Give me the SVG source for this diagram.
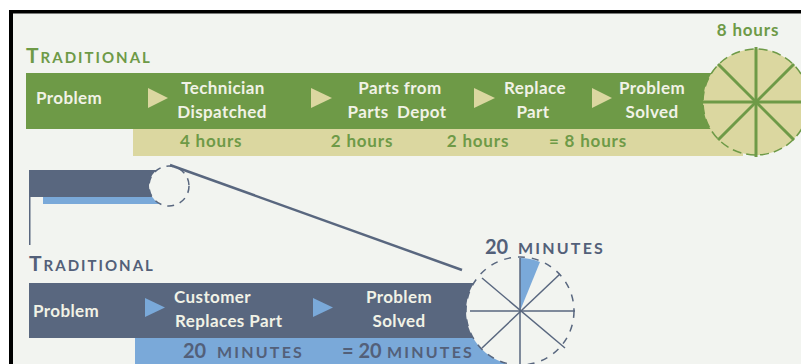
<svg xmlns="http://www.w3.org/2000/svg" width="801" height="364" viewBox="0 0 801 364">
<style>
text{font-family:Lato,"Open Sans","DejaVu Sans",sans-serif;font-weight:bold}
.wt{fill:#f1f2e6;font-size:17px;letter-spacing:0.4px}
.gt{fill:#6e9a47;font-size:17px;letter-spacing:0.8px}
.st{fill:#536079}
.mid{text-anchor:middle}
.big{font-size:21px}
.sc{font-size:15px;letter-spacing:2px}
.min{font-size:16px;letter-spacing:2.2px}
.dig{font-size:20px}
</style>
<rect width="801" height="364" fill="#ffffff"/>
<rect x="9" y="10" width="800" height="360" fill="#000000"/>
<rect x="13" y="13.5" width="800" height="360" fill="#f2f4f0"/>

<g id="traditional-8h">
  <text x="26" y="63" fill="#6e9a47" letter-spacing="2"><tspan class="big">T</tspan><tspan class="sc">RADITIONAL</tspan></text>
  <rect x="26" y="73" width="710" height="56" fill="#6e9a47"/>
  <rect x="133" y="129" width="610" height="27" fill="#dbd7a0"/>
</g>
<g id="n-problem1"><text class="wt" x="36" y="104">Problem</text></g>
<g id="n-technician"><text class="wt mid" x="223" y="94">Technician</text><text class="wt mid" x="222" y="118">Dispatched</text></g>
<g id="n-parts"><text class="wt mid" x="400" y="94">Parts from</text><text class="wt mid" x="397" y="118" word-spacing="4">Parts Depot</text></g>
<g id="n-replace"><text class="wt mid" x="535" y="94">Replace</text><text class="wt mid" x="533" y="118">Part</text></g>
<g id="n-solved1"><text class="wt mid" x="652" y="94">Problem</text><text class="wt mid" x="652" y="118">Solved</text></g>
<g id="times-8h">
  <text class="gt" x="180" y="147">4 hours</text>
  <text class="gt mid" x="362" y="147">2 hours</text>
  <text class="gt mid" x="478" y="147">2 hours</text>
  <text class="gt mid" x="588" y="147">= 8 hours</text>
</g>
<g id="clock-8h">
  <circle cx="756" cy="102" r="53" fill="#dbd7a0" stroke="#6e9a47" stroke-width="1.5" stroke-dasharray="9 5"/>
  <g stroke="#6e9a47" stroke-width="3">
    <line x1="756" y1="47" x2="756" y2="157"/>
    <line x1="703" y1="102" x2="809" y2="102"/>
    <line x1="718" y1="64" x2="794" y2="140"/>
    <line x1="718" y1="140" x2="794" y2="64"/>
  </g>
  <text class="gt mid" x="748" y="36">8 hours</text>
</g>

<g id="zoom-bar">
  <rect x="29" y="170" width="136" height="27" fill="#59677f"/>
  <rect x="43" y="197" width="122" height="7" fill="#7aa9d9"/>
  <line x1="29.75" y1="190" x2="29.75" y2="245" stroke="#59677f" stroke-width="1.5"/>
  <circle cx="169" cy="186" r="20" fill="#f2f4f0" stroke="#59677f" stroke-width="1.5" stroke-dasharray="7 6"/>
</g>

<g id="traditional-20m">
  <text class="st" x="29" y="271" letter-spacing="2"><tspan class="big">T</tspan><tspan class="sc">RADITIONAL</tspan></text>
  <rect x="29" y="283" width="460" height="55" fill="#59677f"/>
  <rect x="135" y="338" width="370" height="30" fill="#7aa9d9"/>
</g>
<g id="n-problem2"><text class="wt" x="33" y="317">Problem</text></g>
<g id="n-customer"><text class="wt" x="174" y="303">Customer</text><text class="wt" x="175" y="327">Replaces Part</text></g>
<g id="n-solved2"><text class="wt mid" x="399" y="303">Problem</text><text class="wt mid" x="399" y="327">Solved</text></g>
<g id="times-20m">
  <text class="st" x="183" y="358"><tspan class="dig">20</tspan><tspan class="min" x="217">MINUTES</tspan></text>
  <text class="st" x="342" y="358"><tspan class="dig">= 20</tspan><tspan class="min" x="387" letter-spacing="3.5">MINUTES</tspan></text>
</g>
<g id="clock-20m">
  <circle cx="520" cy="311" r="54" fill="#f2f4f0" stroke="#59677f" stroke-width="1.5" stroke-dasharray="7 7"/>
  <path d="M520 311 L520 258 A53 53 0 0 1 540 262 Z" fill="#7aa9d9"/>
  <g stroke="#59677f" stroke-width="1.5">
    <line x1="520" y1="258" x2="520" y2="368"/>
    <line x1="470" y1="311" x2="575" y2="311"/>
    <line x1="482" y1="278" x2="565" y2="348"/>
    <line x1="482" y1="348" x2="560" y2="274"/>
  </g>
  <text class="st" x="485" y="254"><tspan class="dig">20</tspan><tspan class="min" x="518">MINUTES</tspan></text>
</g>

<g id="connectors">
  <g fill="#dbd7a0">
    <polygon points="148,88 168,98 148,108"/>
    <polygon points="311,88 332,98 311,108"/>
    <polygon points="474,88 495,98 474,108"/>
    <polygon points="592,88 612,98 592,108"/>
  </g>
  <g fill="#7aa9d9">
    <polygon points="145,298 165,307.5 145,317"/>
    <polygon points="313,298 333,307.5 313,317"/>
  </g>
  <line x1="170" y1="165" x2="462" y2="270" stroke="#59677f" stroke-width="2.5"/>
</g>
</svg>
